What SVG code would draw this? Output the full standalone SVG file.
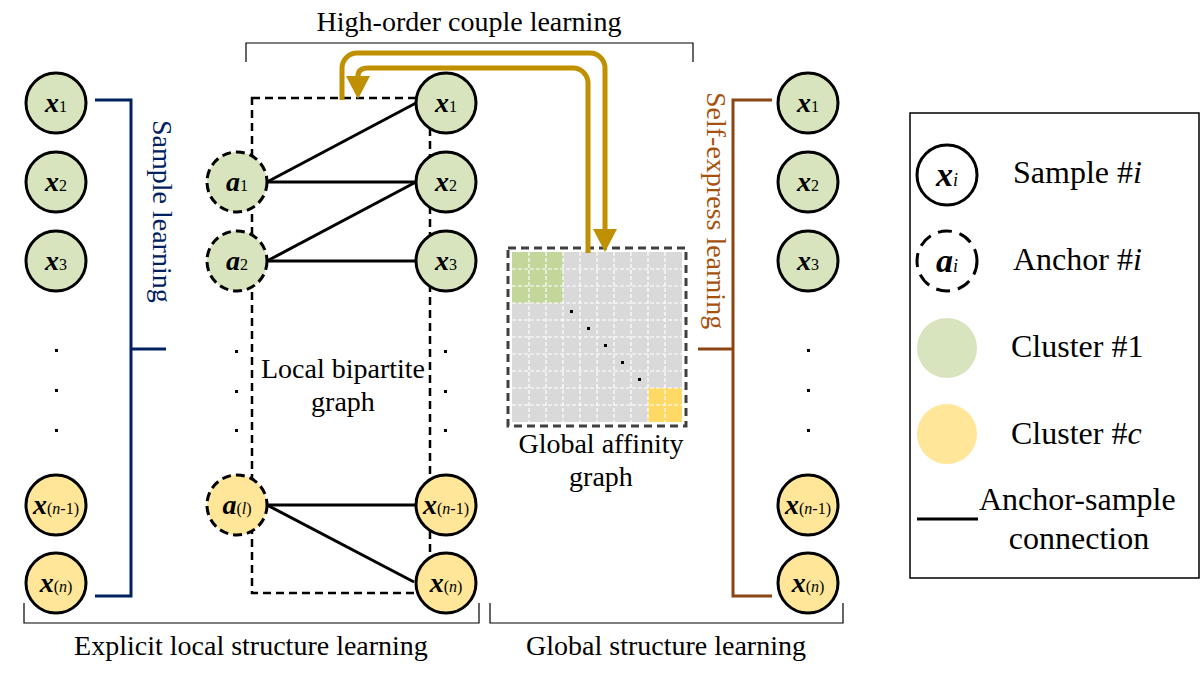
<svg xmlns="http://www.w3.org/2000/svg" width="1201" height="674" viewBox="0 0 1201 674">
<style>
text{font-family:"Liberation Serif","Times New Roman",serif;fill:#000}
.t28{font-size:28px}
.t32{font-size:32px}
.lbl{font-size:28px;text-anchor:middle}
.v{font-weight:bold;font-style:italic}
.sub{font-size:16px}
.it{font-style:italic}
.samp{stroke:#000;stroke-width:3}
.anc{stroke:#000;stroke-width:3;stroke-dasharray:9 5}
.g{fill:#d7e4bd}
.y{fill:#ffe699}
.edge{stroke:#000;stroke-width:3;fill:none}
.br{stroke:#000;stroke-width:1.2;fill:none}
.blue{stroke:#002060;stroke-width:3;fill:none}
.brown{stroke:#8b4513;stroke-width:3;fill:none}
.gold{stroke:#bf9000;stroke-width:5;fill:none;marker-end:url(#ah)}
.dot{fill:#000}
</style>
<defs>
<marker id="ah" markerUnits="userSpaceOnUse" markerWidth="24" markerHeight="24" viewBox="0 0 24 24" refX="0" refY="12" orient="auto">
<path d="M0,0 L23,12 L0,24 z" fill="#bf9000"/>
</marker>
</defs>

<!-- brackets and section labels -->
<g id="brackets">
<path class="br" d="M246,62 V43 H693 V62"/>
<path class="br" d="M24,603 V623 H479 V603"/>
<path class="br" d="M490,603 V623 H843 V603"/>
<text class="t28" x="469" y="31" text-anchor="middle">High-order couple learning</text>
<text class="t28" x="251" y="655" text-anchor="middle">Explicit local structure learning</text>
<text class="t28" x="666" y="655" text-anchor="middle">Global structure learning</text>
</g>

<!-- sample learning bracket -->
<g id="sample-learning">
<path class="blue" d="M95,100 H131 V596 H95"/>
<path class="blue" d="M131,349 H166"/>
<text class="t28" transform="translate(153,120) rotate(90)" style="fill:#002060">Sample learning</text>
</g>

<!-- self-express bracket -->
<g id="self-express">
<path class="brown" d="M772,100 H733 V596 H772"/>
<path class="brown" d="M698,349 H733"/>
<text class="t28" transform="translate(707,92) rotate(90)" style="fill:#a5520f">Self-express learning</text>
</g>

<!-- local bipartite dashed frame -->
<g id="bipartite-frame">
<rect x="252" y="98" width="178" height="495" fill="none" stroke="#000" stroke-width="2.5" stroke-dasharray="8 5"/>
<text class="t28" x="343" y="378" text-anchor="middle">Local bipartite</text>
<text class="t28" x="343" y="411" text-anchor="middle">graph</text>
</g>

<!-- global affinity matrix -->
<g id="affinity-matrix">
<rect x="512" y="252" width="170" height="170" fill="#d9d9d9"/>
<rect x="512" y="252" width="51" height="51" fill="#c4d79b"/>
<rect x="648" y="388" width="34" height="34" fill="#ffd966"/>
<path d="M529,252 V422 M546,252 V422 M563,252 V422 M580,252 V422 M597,252 V422 M614,252 V422 M631,252 V422 M648,252 V422 M665,252 V422 M512,269 H682 M512,286 H682 M512,303 H682 M512,320 H682 M512,337 H682 M512,354 H682 M512,371 H682 M512,388 H682 M512,405 H682" stroke="#fff" stroke-width="1.2" stroke-dasharray="4 2" fill="none"/>
<rect class="dot" x="570" y="310" width="3" height="3"/>
<rect class="dot" x="587" y="327" width="3" height="3"/>
<rect class="dot" x="604" y="344" width="3" height="3"/>
<rect class="dot" x="621" y="361" width="3" height="3"/>
<rect class="dot" x="638" y="378" width="3" height="3"/>
<rect x="508" y="248" width="178" height="178" fill="none" stroke="#404040" stroke-width="3" stroke-dasharray="8 5"/>
<text class="t28" x="601" y="453" text-anchor="middle">Global affinity</text>
<text class="t28" x="601" y="486" text-anchor="middle">graph</text>
</g>

<!-- connectors -->
<g id="connectors">
<path class="edge" d="M267,182 L416,103"/>
<path class="edge" d="M267,182 L416,182"/>
<path class="edge" d="M267,261 L416,182"/>
<path class="edge" d="M267,261 L416,261"/>
<path class="edge" d="M267,505 L416,505"/>
<path class="edge" d="M267,505 L414,582"/>
<path class="gold" d="M342,100 V68 A15,15 0 0 1 357,53 H590 A15,15 0 0 1 605,68 V229"/>
<path class="gold" d="M588,253 V83 A15,15 0 0 0 573,68 H368 Q358,68 358,76"/>
</g>

<!-- ellipsis dots -->
<g id="ellipses">
<rect class="dot" x="55" y="349" width="3" height="3"/><rect class="dot" x="55" y="389" width="3" height="3"/><rect class="dot" x="55" y="429" width="3" height="3"/>
<rect class="dot" x="235" y="350" width="3" height="3"/><rect class="dot" x="235" y="390" width="3" height="3"/><rect class="dot" x="235" y="429" width="3" height="3"/>
<rect class="dot" x="444" y="350" width="3" height="3"/><rect class="dot" x="444" y="390" width="3" height="3"/><rect class="dot" x="444" y="429" width="3" height="3"/>
<rect class="dot" x="807" y="349" width="3" height="3"/><rect class="dot" x="807" y="389" width="3" height="3"/><rect class="dot" x="807" y="429" width="3" height="3"/>
</g>

<!-- left sample column -->
<g id="L-x1"><circle class="samp g" cx="56" cy="103" r="30"/><text class="lbl" x="56" y="112"><tspan class="v">x</tspan><tspan class="sub">1</tspan></text></g>
<g id="L-x2"><circle class="samp g" cx="56" cy="182" r="30"/><text class="lbl" x="56" y="191"><tspan class="v">x</tspan><tspan class="sub">2</tspan></text></g>
<g id="L-x3"><circle class="samp g" cx="56" cy="261" r="30"/><text class="lbl" x="56" y="270"><tspan class="v">x</tspan><tspan class="sub">3</tspan></text></g>
<g id="L-xn1"><circle class="samp y" cx="56" cy="505" r="30"/><text class="lbl" x="56" y="514"><tspan class="v">x</tspan><tspan class="sub">(<tspan class="it">n</tspan>-1)</tspan></text></g>
<g id="L-xn"><circle class="samp y" cx="56" cy="583" r="30"/><text class="lbl" x="56" y="592"><tspan class="v">x</tspan><tspan class="sub">(<tspan class="it">n</tspan>)</tspan></text></g>

<!-- anchors -->
<g id="a1"><circle class="anc g" cx="237" cy="182" r="30"/><text class="lbl" x="237" y="191"><tspan class="v">a</tspan><tspan class="sub">1</tspan></text></g>
<g id="a2"><circle class="anc g" cx="237" cy="261" r="30"/><text class="lbl" x="237" y="270"><tspan class="v">a</tspan><tspan class="sub">2</tspan></text></g>
<g id="al"><circle class="anc y" cx="237" cy="505" r="30"/><text class="lbl" x="237" y="514"><tspan class="v">a</tspan><tspan class="sub">(<tspan class="it">l</tspan>)</tspan></text></g>

<!-- middle sample column -->
<g id="M-x1"><circle class="samp g" cx="446" cy="103" r="30"/><text class="lbl" x="446" y="112"><tspan class="v">x</tspan><tspan class="sub">1</tspan></text></g>
<g id="M-x2"><circle class="samp g" cx="446" cy="182" r="30"/><text class="lbl" x="446" y="191"><tspan class="v">x</tspan><tspan class="sub">2</tspan></text></g>
<g id="M-x3"><circle class="samp g" cx="446" cy="261" r="30"/><text class="lbl" x="446" y="270"><tspan class="v">x</tspan><tspan class="sub">3</tspan></text></g>
<g id="M-xn1"><circle class="samp y" cx="446" cy="505" r="30"/><text class="lbl" x="446" y="514"><tspan class="v">x</tspan><tspan class="sub">(<tspan class="it">n</tspan>-1)</tspan></text></g>
<g id="M-xn"><circle class="samp y" cx="446" cy="583" r="30"/><text class="lbl" x="446" y="592"><tspan class="v">x</tspan><tspan class="sub">(<tspan class="it">n</tspan>)</tspan></text></g>

<!-- right sample column -->
<g id="R-x1"><circle class="samp g" cx="808" cy="103" r="30"/><text class="lbl" x="808" y="112"><tspan class="v">x</tspan><tspan class="sub">1</tspan></text></g>
<g id="R-x2"><circle class="samp g" cx="808" cy="182" r="30"/><text class="lbl" x="808" y="191"><tspan class="v">x</tspan><tspan class="sub">2</tspan></text></g>
<g id="R-x3"><circle class="samp g" cx="808" cy="261" r="30"/><text class="lbl" x="808" y="270"><tspan class="v">x</tspan><tspan class="sub">3</tspan></text></g>
<g id="R-xn1"><circle class="samp y" cx="808" cy="505" r="30"/><text class="lbl" x="808" y="514"><tspan class="v">x</tspan><tspan class="sub">(<tspan class="it">n</tspan>-1)</tspan></text></g>
<g id="R-xn"><circle class="samp y" cx="808" cy="583" r="30"/><text class="lbl" x="808" y="592"><tspan class="v">x</tspan><tspan class="sub">(<tspan class="it">n</tspan>)</tspan></text></g>

<!-- legend -->
<g id="legend">
<rect x="910" y="113" width="289" height="465" fill="#fff" stroke="#000" stroke-width="1.5"/>
<circle cx="947" cy="175" r="30" fill="#fff" stroke="#000" stroke-width="3"/>
<text x="947" y="186" text-anchor="middle" style="font-size:34px"><tspan class="v">x</tspan><tspan class="it" style="font-size:18px">i</tspan></text>
<text class="t32" x="1013" y="183">Sample #<tspan class="it">i</tspan></text>
<circle cx="947" cy="261" r="30" fill="#fff" stroke="#000" stroke-width="3" stroke-dasharray="14 8"/>
<text x="947" y="272" text-anchor="middle" style="font-size:34px"><tspan class="v">a</tspan><tspan class="it" style="font-size:18px">i</tspan></text>
<text class="t32" x="1013" y="270">Anchor #<tspan class="it">i</tspan></text>
<circle cx="947" cy="348" r="30" fill="#d7e4bd"/>
<text class="t32" x="1011" y="357">Cluster #1</text>
<circle cx="947" cy="434" r="30" fill="#ffe699"/>
<text class="t32" x="1011" y="444">Cluster #<tspan class="it">c</tspan></text>
<path d="M917,519 H978" stroke="#000" stroke-width="3"/>
<text class="t32" x="979" y="510">Anchor-sample</text>
<text class="t32" x="1079" y="549" text-anchor="middle">connection</text>
</g>
</svg>
